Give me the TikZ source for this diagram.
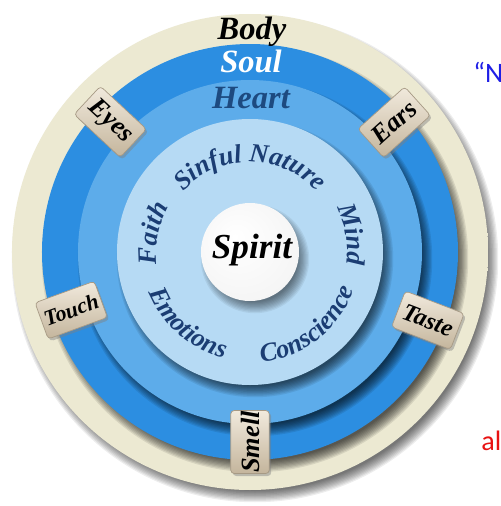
\documentclass[tikz,border=0pt]{standalone}
\usepackage{fontspec}
\setmainfont{Liberation Serif}
\newfontfamily\sidefont{Carlito}
\usepackage{tikz}
\usetikzlibrary{decorations.text, shadows}

\definecolor{bodycream}{HTML}{ECE9D2}
\definecolor{bodylight}{HTML}{F6F4E9}
\definecolor{bodydark}{HTML}{CDC8AB}
\definecolor{soulblue}{HTML}{2C8EE1}
\definecolor{soullight}{HTML}{55AAEE}
\definecolor{heartblue}{HTML}{5DACEA}
\definecolor{heartlight}{HTML}{8AC5F2}
\definecolor{discblue}{HTML}{B6DAF4}
\definecolor{disclight}{HTML}{CFE8FA}
\definecolor{navytext}{HTML}{1B3D73}
\definecolor{heartnavy}{HTML}{1D4A80}
\definecolor{tabtop}{HTML}{F1EADD}
\definecolor{tabbottom}{HTML}{C4B59C}
\definecolor{quoteblue}{HTML}{1E1EE6}
\definecolor{tailred}{HTML}{E81212}

\pgfdeclareradialshading{bodyring}{\pgfpoint{0bp}{0bp}}{color(0bp)=(bodycream); color(44bp)=(bodycream); color(47bp)=(bodylight); color(50bp)=(bodydark)}
\pgfdeclareradialshading{soulring}{\pgfpoint{0bp}{0bp}}{color(0bp)=(soulblue); color(46bp)=(soulblue); color(50bp)=(soullight)}
\pgfdeclareradialshading{heartring}{\pgfpoint{0bp}{0bp}}{color(0bp)=(heartblue); color(46bp)=(heartblue); color(50bp)=(heartlight)}
\pgfdeclareradialshading{innerdisc}{\pgfpoint{0bp}{0bp}}{color(0bp)=(discblue); color(46bp)=(discblue); color(50bp)=(disclight)}
\pgfdeclareradialshading{spiritball}{\pgfpoint{-8bp}{8bp}}{color(0bp)=(white); color(30bp)=(white!96!black); color(50bp)=(white!74!black)}

\newcommand{\ringfont}{\fontsize{18.5}{20}\selectfont\bfseries\itshape}
\newcommand{\arcfont}{\fontsize{15}{15}\selectfont\bfseries\itshape}
\newcommand{\softshadow}[2][0.07]{%
  \foreach \k in {0,...,9}
    \fill[black, opacity=#1] (0.1,-0.14) circle ({#2-0.12+0.025*\k});}

\tikzset{
  sense/.style={rounded corners=2pt, top color=tabtop, bottom color=tabbottom,
    draw=tabbottom!85!black, line width=0.4pt,
    minimum width=1.26cm, minimum height=0.77cm, inner sep=0pt,
    font=\fontsize{15}{15}\selectfont\bfseries\itshape,
    drop shadow={opacity=0.45, shadow xshift=0.04cm, shadow yshift=-0.05cm}},
  arclabel/.style={decorate, decoration={text along path, text align=center,
    text color=navytext, text={|\arcfont|#1}}},
  ringlabel/.style={font=\ringfont, inner sep=0pt}
}

\begin{document}
\begin{tikzpicture}
  \fill[white] (-5.0,-5.08) rectangle (5.02,5.04);
  \useasboundingbox (-5.0,-5.08) rectangle (5.02,5.04);

  \softshadow{4.76}
  \shade[shading=bodyring] (0,0) circle (4.76);
  \softshadow[0.09]{4.16}
  \shade[shading=soulring] (0,0) circle (4.16);
  \softshadow[0.09]{3.44}
  \shade[shading=heartring] (0,0) circle (3.44);
  \softshadow[0.08]{2.66}
  \shade[shading=innerdisc] (0,0) circle (2.66);
  \softshadow[0.06]{0.98}
  \shade[shading=spiritball] (0,0) circle (0.98);

  \node[ringlabel, text=black] (body) at (0.04,4.41) {Body};
  \node[ringlabel, text=white] (soul) at (0.02,3.82) {Soul};
  \node[ringlabel, text=heartnavy] (heart) at (0.02,3.08) {Heart};
  \node[font=\fontsize{20}{22}\selectfont\bfseries\itshape, inner sep=0pt] (spirit) at (0.04,0.04) {Spirit};

  \path[arclabel={Sinful Nature}] (150:1.8) arc[start angle=150, end angle=30, radius=1.8];
  \path[arclabel={Mind}] (60:1.95) arc[start angle=60, end angle=-40, radius=1.95];
  \path[arclabel={Faith}] (215:1.87) arc[start angle=215, end angle=123, radius=1.87];
  \path[arclabel={Emotions}] (185:2.18) arc[start angle=185, end angle=273, radius=2.18];
  \path[arclabel={Conscience}] (260:2.22) arc[start angle=260, end angle=356, radius=2.22];

  \node[sense, rotate=-43] (eyes) at (137:3.82) {Eyes};
  \node[sense, rotate=42] (ears) at (42:3.88) {Ears};
  \node[sense, rotate=20, font=\fontsize{12.5}{12.5}\selectfont\bfseries\itshape] (touch) at (198:3.76) {Touch};
  \node[sense, rotate=-21, font=\fontsize{14}{14}\selectfont\bfseries\itshape] (taste) at (339:3.81) {Taste};
  \node[sense, rotate=90] (smell) at (270:3.8) {Smell};

  \node[anchor=base west, inner sep=0pt, text=quoteblue, font=\sidefont\fontsize{16}{16}\selectfont] (quote) at (4.46,3.4) {“N};
  \node[anchor=base west, inner sep=0pt, text=tailred, font=\sidefont\fontsize{16}{16}\selectfont] (tail) at (4.62,-3.96) {al};
\end{tikzpicture}
\end{document}
